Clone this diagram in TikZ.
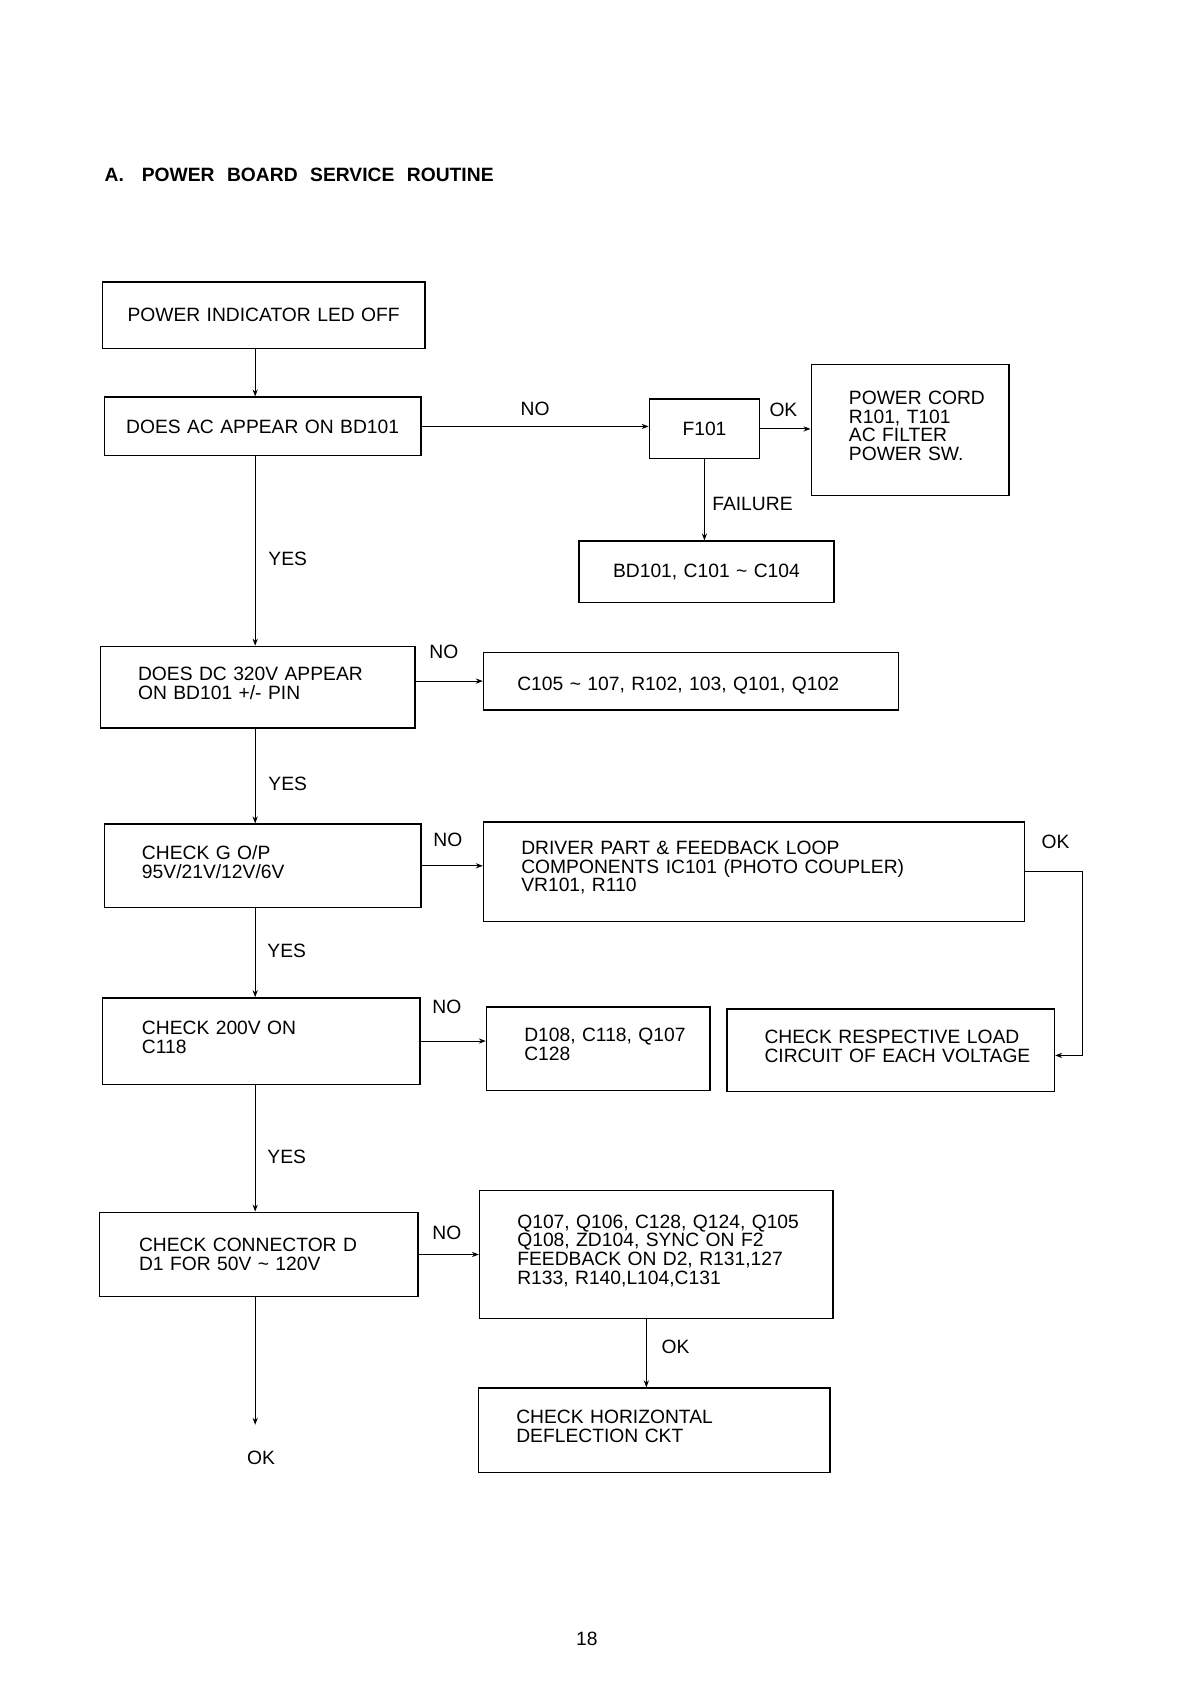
\documentclass[tikz,border=0pt]{standalone}
\usepackage{fontspec}
\setmainfont{Liberation Sans}
\usetikzlibrary{arrows.meta}

\newlength\boxlift
\setlength\boxlift{4pt}

\tikzset{
  txt/.style={font=\fontsize{9.7}{9.4}\selectfont},
  stepbox/.style={draw, line width=0.7pt, inner sep=0pt, align=left, txt,
    execute at begin node={\leftskip=#1},
    execute at end node={\par\nointerlineskip\hbox{\rule{0pt}{\boxlift}}}},
  stepbox/.default=19pt,
  nolift/.style={execute at begin node={\setlength\boxlift{0pt}}},
  midbox/.style={draw, line width=0.7pt, inner sep=0pt, align=center, txt},
  flow/.style={-{Stealth[length=3.5pt,width=2.6pt]}, line width=0.5pt},
  lbl/.style={txt, inner sep=0pt},
}

\begin{document}
\begin{tikzpicture}[x=0.5pt, y=-0.5pt, scale=0.9929, transform shape]
\useasboundingbox (0,0) rectangle (1199.5,1695);

% title
\node [lbl, anchor=west, font=\fontsize{9.7}{9.4}\selectfont\bfseries] (title) at (105,176)
  {A.\hspace{9pt}POWER\hspace{6.3pt}BOARD\hspace{6.3pt}SERVICE\hspace{6.3pt}ROUTINE};

% main column
\node [midbox, text width=162.5pt, minimum height=33.5pt] (power) at (265.5,317.5) {POWER INDICATOR LED OFF};
\node [midbox, text width=159.5pt, minimum height=29.5pt] (ac) at (264.5,429.5) {DOES AC APPEAR ON BD101};
\node [stepbox, text width=158.5pt, minimum height=41pt] (dc) at (259.5,692) {DOES DC 320V APPEAR\\ON BD101 +/- PIN};
\node [stepbox, text width=159.5pt, minimum height=42pt] (gop) at (264.5,872) {CHECK G O/P\\95V/21V/12V/6V};
\node [stepbox=20pt, text width=160pt, minimum height=43.5pt] (twohund) at (263,1048.5) {CHECK 200V ON\\C118};
\node [stepbox=20pt, nolift, text width=160.5pt, minimum height=42.5pt] (conn) at (260.5,1263.5) {CHECK CONNECTOR D\\D1 FOR 50V \textasciitilde{} 120V};

% right side
\node [midbox, text width=55.5pt, minimum height=30pt] (f101) at (709.5,432) {F101};
\node [stepbox, text width=99.5pt, minimum height=66pt] (cord) at (916.5,433) {POWER CORD\\R101, T101\\AC FILTER\\POWER SW.};
\node [midbox, text width=128.5pt, minimum height=31pt] (bd) at (711.5,576) {BD101, C101 \textasciitilde{} C104};
\node [stepbox=17pt, text height=9.6pt, text depth=0pt, text width=209pt, minimum height=29pt] (cap) at (696,686) {C105 \textasciitilde{} 107, R102, 103, Q101, Q102};
\node [stepbox, text width=272.5pt, minimum height=50pt] (driver) at (759.5,878) {DRIVER PART \& FEEDBACK LOOP\\COMPONENTS IC101 (PHOTO COUPLER)\\VR101, R110};
\node [stepbox, text width=112.5pt, minimum height=42pt] (dio) at (602.5,1056) {D108, C118, Q107\\C128};
\node [stepbox, text width=165pt, minimum height=41.5pt] (load) at (897,1057.5) {CHECK RESPECTIVE LOAD\\CIRCUIT OF EACH VOLTAGE};
\node [stepbox, text width=178pt, minimum height=64.5pt] (qlist) at (661,1263.5) {Q107, Q106, C128, Q124, Q105\\Q108, ZD104, SYNC ON F2\\FEEDBACK ON D2, R131,127\\R133, R140,L104,C131};
\node [stepbox, text width=177pt, minimum height=42.5pt] (horiz) at (659,1440.5) {CHECK HORIZONTAL\\DEFLECTION CKT};

% free ends
\coordinate (trunk) at (257,0);
\coordinate (okend) at (257,1435);
\coordinate (loop) at (1090,1063);

% connectors
\draw [flow] (power.south -| trunk) -- (ac.north -| trunk);
\draw [flow] (ac.south -| trunk) -- (dc.north -| trunk);
\draw [flow] (dc.south -| trunk) -- (gop.north -| trunk);
\draw [flow] (gop.south -| trunk) -- (twohund.north -| trunk);
\draw [flow] (twohund.south -| trunk) -- (conn.north -| trunk);
\draw [flow] (conn.south -| trunk) -- (okend);
\draw [flow] (ac.east) -- (ac.east -| f101.west);
\draw [flow] (f101.east) -- (f101.east -| cord.west);
\draw [flow] (f101.south) -- (f101.south |- bd.north);
\draw [flow] (dc.east |- cap.west) -- (cap.west);
\draw [flow] (gop.east) -- (gop.east -| driver.west);
\draw [flow] (twohund.east) -- (twohund.east -| dio.west);
\draw [flow] (conn.east) -- (conn.east -| qlist.west);
\draw [flow] ([xshift=-5pt]qlist.south) -- ([xshift=-5pt]qlist.south |- horiz.north);
\draw [flow] (driver.east) -| (loop) -- (loop -| load.east);

% labels
\node [lbl] (no1) at (539,412) {NO};
\node [lbl] (ok1) at (789,413) {OK};
\node [lbl, anchor=west] (fail) at (717,508) {FAILURE};
\node [lbl, anchor=west] (yes1) at (270,563) {YES};
\node [lbl] (no2) at (447,657) {NO};
\node [lbl, anchor=west] (yes2) at (270,789) {YES};
\node [lbl] (no3) at (451,846) {NO};
\node [lbl] (ok2) at (1063,848) {OK};
\node [lbl, anchor=west] (yes3) at (269,958) {YES};
\node [lbl] (no4) at (450,1014) {NO};
\node [lbl, anchor=west] (yes4) at (269,1165) {YES};
\node [lbl] (no5) at (450,1242) {NO};
\node [lbl, anchor=west] (ok3) at (666,1356) {OK};
\node [lbl] (done) at (263,1468) {OK};
\node [lbl] (page) at (591,1651) {18};
\end{tikzpicture}
\end{document}
